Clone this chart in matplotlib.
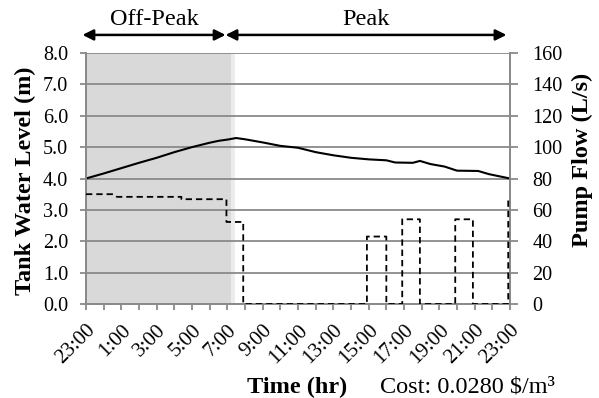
import numpy as np
import matplotlib
matplotlib.use('Agg')
import matplotlib.pyplot as plt
from matplotlib.transforms import blended_transform_factory

plt.rcParams['font.family'] = 'Liberation Serif'

# hours after 23:00 and tank level (m)
tank_hr = [0, 1, 2, 3, 4, 5, 6, 7, 7.5, 8, 8.5, 9, 10, 11, 12, 13, 14, 15, 16,
           17, 17.5, 18.5, 18.9, 19.5, 20.3, 21, 22.2, 22.8, 24]
tank_level = [4.00, 4.16, 4.33, 4.50, 4.66, 4.84, 5.00, 5.14, 5.20, 5.24, 5.29,
              5.25, 5.15, 5.04, 4.98, 4.84, 4.74, 4.66, 4.61, 4.58, 4.51, 4.50,
              4.56, 4.46, 4.38, 4.25, 4.24, 4.14, 4.00]

# pump flow (L/s), switching points
pump_hr = [0, 1.55, 1.75, 5.4, 5.4, 7.95, 7.95, 8.9, 8.9, 15.9, 15.9, 17.0,
           17.0, 17.9, 17.9, 18.9, 18.9, 20.9, 20.9, 21.9, 21.9, 23.9, 23.9]
pump_flow = [70, 70, 68.3, 68.3, 66.8, 66.8, 52.3, 52.3, 0, 0, 43, 43,
             0, 0, 54, 54, 0, 0, 54, 54, 0, 0, 67]

tick_hr = list(range(0, 25, 2))
tick_lbl = ['23:00', '1:00', '3:00', '5:00', '7:00', '9:00', '11:00', '13:00',
            '15:00', '17:00', '19:00', '21:00', '23:00']

off_peak_end = 8.2
grey = '#8a8a8a'
fs = 14.5
fs_big = 17.5

fig = plt.figure(figsize=(5.99, 3.98), dpi=100)
ax = fig.add_axes([86/599, 1 - 304/398, 424/599, 251/398])
ax2 = ax.twinx()

ax.axvspan(0, off_peak_end, color='#d9d9d9', lw=0, zorder=0)
ax.axvspan(off_peak_end, off_peak_end + 0.25, color='#ececec', lw=0, zorder=0)

ax.plot(tank_hr, tank_level, color='black', lw=1.5, zorder=3)
ax2.plot(pump_hr, pump_flow, color='black', lw=1.3, dashes=(3.5, 2.2), zorder=3)

ax.set_xlim(0, 24)
ax.set_ylim(0, 8)
ax2.set_ylim(0, 160)
ax.set_yticks(np.arange(0, 8.1, 1))
ax.set_yticklabels(['%.1f' % v for v in np.arange(0, 8.1, 1)], fontsize=fs)
ax2.set_yticks(np.arange(0, 161, 20))
ax2.set_yticklabels([str(v) for v in range(0, 161, 20)], fontsize=fs)
ax.set_xticks(tick_hr)
ax.set_xticks(range(1, 24, 2), minor=True)
ax.set_xticklabels(tick_lbl, rotation=45, ha='right', rotation_mode='anchor',
                   fontsize=15)

ax.yaxis.grid(True, color=grey, lw=1.3)
for a in (ax, ax2):
    for s in a.spines.values():
        s.set_color(grey)
        s.set_linewidth(1.3)
    a.spines['top'].set_visible(False)
ax.tick_params(axis='y', color=grey, width=1.3, length=4.3, pad=8.6)
ax.tick_params(axis='x', which='both', color=grey, width=1.3, length=4, pad=8)
ax2.tick_params(axis='y', color=grey, width=1.3, length=6, pad=10)

fig.text(25/599, 1 - 181/398, 'Tank Water Level (m)', fontsize=fs_big,
         fontweight='bold', rotation=90, ha='center', va='center')
fig.text(582/599, 1 - 160/398, 'Pump Flow (L/s)', fontsize=fs_big,
         fontweight='bold', rotation=90, ha='center', va='center')
fig.text(297/599, 1 - 387/398, 'Time (hr)', fontsize=fs_big, fontweight='bold',
         ha='center', va='center')
fig.text(380/599, 1 - 387/398, 'Cost: 0.0280 $/m³', fontsize=fs_big,
         ha='left', va='center')

# off-peak / peak period arrows
trans = blended_transform_factory(ax.transData, ax.transAxes)
for x0, x1, lbl in [(-0.2, 7.9, 'Off-Peak'), (7.9, 23.8, 'Peak')]:
    ax.annotate('', xy=(x0, 1.072), xytext=(x1, 1.072), xycoords=trans,
                textcoords=trans, annotation_clip=False,
                arrowprops=dict(arrowstyle='<|-|>', color='black', lw=1.8,
                                mutation_scale=16, shrinkA=0, shrinkB=0))
    ax.text((x0 + x1) / 2, 1.135, lbl, transform=trans, ha='center',
            va='center', fontsize=fs_big)

fig.savefig('out.png', dpi=100)
